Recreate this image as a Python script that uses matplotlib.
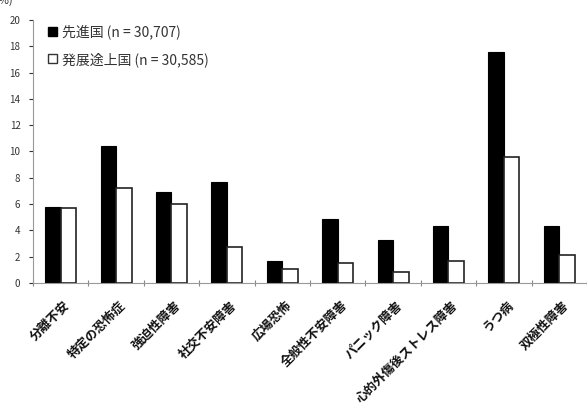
import matplotlib
matplotlib.use("Agg")
import matplotlib.pyplot as plt
from matplotlib.patches import Patch
import numpy as np

plt.rcParams['font.family'] = ['Noto Sans CJK JP', 'DejaVu Sans']

categories = ["分離不安", "特定の恐怖症", "強迫性障害", "社交不安障害", "広場恐怖",
              "全般性不安障害", "パニック障害", "心的外傷後ストレス障害", "うつ病", "双極性障害"]
developed = [5.8, 10.4, 6.9, 7.7, 1.7, 4.85, 3.3, 4.35, 17.6, 4.35]
developing = [5.7, 7.2, 6.0, 2.7, 1.05, 1.5, 0.8, 1.7, 9.55, 2.1]
legend_labels = ["先進国 (n = 30,707)", "発展途上国 (n = 30,585)"]

fig = plt.figure(figsize=(5.87, 4.08), dpi=100)
ax = fig.add_axes([0.0562, 0.3064, 0.9438, 0.6446])

x = np.arange(len(categories))
w = 0.28
ax.bar(x - w / 2, developed, w, color='black', edgecolor='black', linewidth=0.8)
ax.bar(x + w / 2, developing, w, color='white', edgecolor='#222222', linewidth=1.2)

ax.set_xlim(-0.5, len(categories) - 0.5)
ax.set_ylim(0, 20)
ax.set_yticks(np.arange(0, 21, 2))
ax.tick_params(axis='y', labelsize=7, colors='#333333', length=3, width=0.8, pad=6)
ax.set_xticks(np.arange(-0.5, len(categories), 1.0))
ax.set_xticklabels([])
ax.tick_params(axis='x', length=4, width=0.8, colors='#888888', direction='inout')
for i, c in enumerate(categories):
    ax.text(i + 0.05, -1.2, c, rotation=45, ha='right', va='top', fontsize=9,
            fontweight='bold', rotation_mode='anchor', color='#111111')

for s in ['top', 'right']:
    ax.spines[s].set_visible(False)
ax.spines['left'].set_color('#999999')
ax.spines['bottom'].set_color('#999999')

handles = [Patch(facecolor='black', edgecolor='black'),
           Patch(facecolor='white', edgecolor='#333333', linewidth=1.0)]
ax.legend(handles, legend_labels, loc='upper left', bbox_to_anchor=(0.005, 1.03),
          frameon=False, fontsize=10, handlelength=0.6, handleheight=0.6,
          handletextpad=0.4, labelspacing=0.9, labelcolor='#333333')

fig.text(-0.008, 0.998, "(%)", fontsize=8, va='center', ha='left', color='#333333')

fig.savefig("out.png", dpi=100)
